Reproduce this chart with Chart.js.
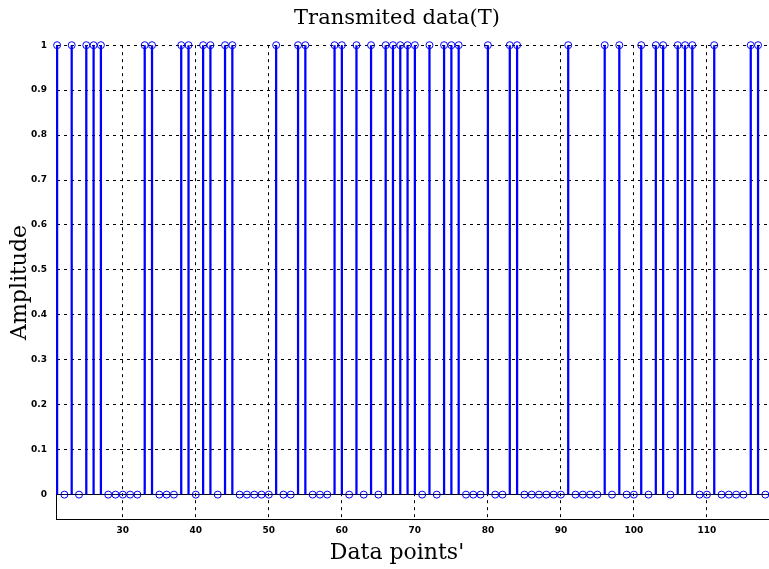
<!DOCTYPE html>
<html><head><meta charset="utf-8">
<script src="https://cdn.jsdelivr.net/npm/chart.js@4"></script>
<style>html,body{margin:0;padding:0;background:#fff}canvas{display:block}</style>
</head><body>
<canvas id="c" width="769" height="569"></canvas>
<script>
const dataPoints = [21,22,23,24,25,26,27,28,29,30,31,32,33,34,35,36,37,38,39,40,
  41,42,43,44,45,46,47,48,49,50,51,52,53,54,55,56,57,58,59,60,
  61,62,63,64,65,66,67,68,69,70,71,72,73,74,75,76,77,78,79,80,
  81,82,83,84,85,86,87,88,89,90,91,92,93,94,95,96,97,98,99,100,
  101,102,103,104,105,106,107,108,109,110,111,112,113,114,115,116,117,118];
const amplitude = [1,0,1,0,1,1,1,0,0,0,0,0,1,1,0,0,0,1,1,0,
  1,1,0,1,1,0,0,0,0,0,1,0,0,1,1,0,0,0,1,1,
  0,1,0,1,0,1,1,1,1,1,0,1,0,1,1,1,0,0,0,1,
  0,0,1,1,0,0,0,0,0,0,1,0,0,0,0,1,0,1,0,0,
  1,0,1,1,0,1,1,1,0,0,1,0,0,0,0,1,1,0];
const xTickValues = [30,40,50,60,70,80,90,100,110];
const yTickValues = [0,0.1,0.2,0.3,0.4,0.5,0.6,0.7,0.8,0.9,1];
const titleText = 'Transmited data(T)';
const xLabel = "Data points'";
const yLabel = 'Amplitude';

const pts = dataPoints.map((x, i) => ({x: x, y: amplitude[i]}));
const blue = '#0000ff';
const serif = 'DejaVu Serif';
const tickFont = {family: 'DejaVu Sans', size: 9, weight: 'bold'};

new Chart(document.getElementById('c'), {
  type: 'scatter',
  data: {
    datasets: [
      {type: 'bar', data: pts, backgroundColor: blue, borderWidth: 0, barThickness: 1.6, order: 2},
      {type: 'scatter', data: pts, pointStyle: 'circle', pointRadius: 3.5,
       pointBorderColor: blue, pointBackgroundColor: 'rgba(0,0,0,0)', pointBorderWidth: 1,
       clip: false, order: 1}
    ]
  },
  options: {
    responsive: false, animation: false, devicePixelRatio: 1,
    layout: {autoPadding: false, padding: {top: 6, right: 0, bottom: 0, left: 25}},
    plugins: {
      legend: {display: false}, tooltip: {enabled: false},
      title: {display: true, text: titleText, color: '#000',
        font: {family: serif, size: 21, weight: 'normal'}, padding: {top: 0, bottom: 14}},
      subtitle: {display: true, position: 'bottom', text: xLabel, color: '#000',
        font: {family: serif, size: 22, weight: 'normal'}, padding: {top: 0, bottom: 3}}
    },
    scales: {
      x: {
        type: 'linear', min: 20.85, max: 118.5, bounds: 'data', offset: false,
        afterBuildTicks: s => { s.ticks = xTickValues.map(v => ({value: v})); },
        afterFit: s => { s.height = 20; },
        grid: {color: '#000', lineWidth: 1, drawTicks: false, offset: false},
        border: {display: true, color: '#000', width: 1, dash: [3, 4]},
        ticks: {color: '#000', font: tickFont, padding: 6, maxRotation: 0, autoSkip: false,
          callback: v => String(v)}
      },
      y: {
        type: 'linear', min: -0.0556, max: 1, bounds: 'data',
        afterBuildTicks: s => { s.ticks = yTickValues.map(v => ({value: v})); },
        afterFit: s => { s.width = 31; },
        grid: {color: '#000', lineWidth: 1, drawTicks: false},
        border: {display: true, color: '#000', width: 1,
          dash: ctx => (ctx.tick && ctx.tick.value === 0) ? [] : [3, 4]},
        ticks: {color: '#000', font: tickFont, padding: 9, autoSkip: false,
          callback: v => String(Math.round(v * 10) / 10)},
        title: {display: true, text: yLabel, color: '#000',
          font: {family: serif, size: 22, weight: 'normal'}, padding: {top: -18, bottom: 0}}
      }
    }
  }
});
</script>
</body></html>
